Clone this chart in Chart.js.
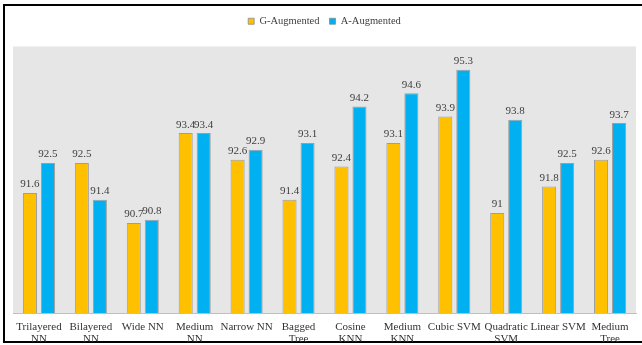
<!DOCTYPE html>
<html>
<head>
<meta charset="utf-8">
<script src="https://cdn.jsdelivr.net/npm/chart.js@4/dist/chart.umd.min.js"></script>
<style>
  html, body { margin: 0; padding: 0; background: #fff; }
  #wrap { position: relative; width: 642px; height: 345px; }
</style>
</head>
<body>
<div id="wrap"><canvas id="acc-chart"></canvas></div>
<script>
// classifier names, split on two lines where needed
const models = [
    ["Trilayered", "NN"], ["Bilayered", "NN"], "Wide NN", ["Medium", "NN"],
    "Narrow NN", ["Bagged", "Tree"], ["Cosine", "KNN"], ["Medium", "KNN"],
    "Cubic SVM", ["Quadratic", "SVM"], "Linear SVM", ["Medium", "Tree"]
];
const gAugmented = [91.6, 92.5, 90.7, 93.4, 92.6, 91.4, 92.4, 93.1, 93.9, 91, 91.8, 92.6];
const aAugmented = [92.5, 91.4, 90.8, 93.4, 92.9, 93.1, 94.2, 94.6, 95.3, 93.8, 92.5, 93.7];

const serif = "'Liberation Serif', 'Times New Roman', serif";

// gray plot background + outer frame
const frame = {
    id: 'frame',
    beforeDraw(c) {
        const ctx = c.ctx, a = c.chartArea;
        ctx.save();
        ctx.fillStyle = '#e7e6e6';
        ctx.fillRect(a.left, a.top, a.right - a.left, a.bottom - a.top);
        ctx.strokeStyle = '#000';
        ctx.lineWidth = 2;
        ctx.strokeRect(4, 5, 700, 337);
        ctx.restore();
    }
};

// value written above each bar
const valueLabels = {
    id: 'valueLabels',
    afterDatasetsDraw(c) {
        const ctx = c.ctx;
        ctx.save();
        ctx.font = '11px ' + serif;
        ctx.fillStyle = '#404040';
        ctx.textAlign = 'center';
        ctx.textBaseline = 'bottom';
        c.data.datasets.forEach((ds, i) => {
            c.getDatasetMeta(i).data.forEach((bar, j) => {
                ctx.fillText(String(ds.data[j]), bar.x, bar.y - 3);
            });
        });
        ctx.restore();
    }
};

new Chart(document.getElementById('acc-chart'), {
    type: 'bar',
    data: {
        labels: models,
        datasets: [{
            label: 'G-Augmented',
            data: gAugmented,
            backgroundColor: '#ffc000',
            borderColor: 'rgba(140,140,140,0.8)',
            borderWidth: 1
        }, {
            label: 'A-Augmented',
            data: aAugmented,
            backgroundColor: '#00b0f0',
            borderColor: 'rgba(140,140,140,0.8)',
            borderWidth: 1
        }]
    },
    options: {
        responsive: true,
        maintainAspectRatio: false,
        animation: false,
        datasets: {
            bar: { categoryPercentage: 0.694, barPercentage: 0.78 }
        },
        layout: { padding: { top: 6, left: 13, right: 6, bottom: 0 } },
        scales: {
            y: { display: false, min: 88, max: 96 },
            x: {
                grid: { display: false, drawTicks: false },
                border: { display: true, color: '#bfbfbf', width: 1 },
                ticks: {
                    color: '#333',
                    padding: 8,
                    maxRotation: 0,
                    autoSkip: false,
                    font: { family: serif, size: 11, lineHeight: 1.1 }
                },
                afterFit(s) { s.height = 32; }
            }
        },
        plugins: {
            legend: {
                position: 'top',
                labels: {
                    boxWidth: 6,
                    boxHeight: 6,
                    padding: 10,
                    color: '#404040',
                    font: { family: serif, size: 10.5 }
                }
            },
            // empty spacer between legend and plot
            subtitle: {
                display: true,
                text: '',
                weight: 500,
                padding: 0,
                font: { size: 10, lineHeight: 1 }
            },
            tooltip: { enabled: false }
        }
    },
    plugins: [frame, valueLabels]
});
</script>
</body>
</html>
